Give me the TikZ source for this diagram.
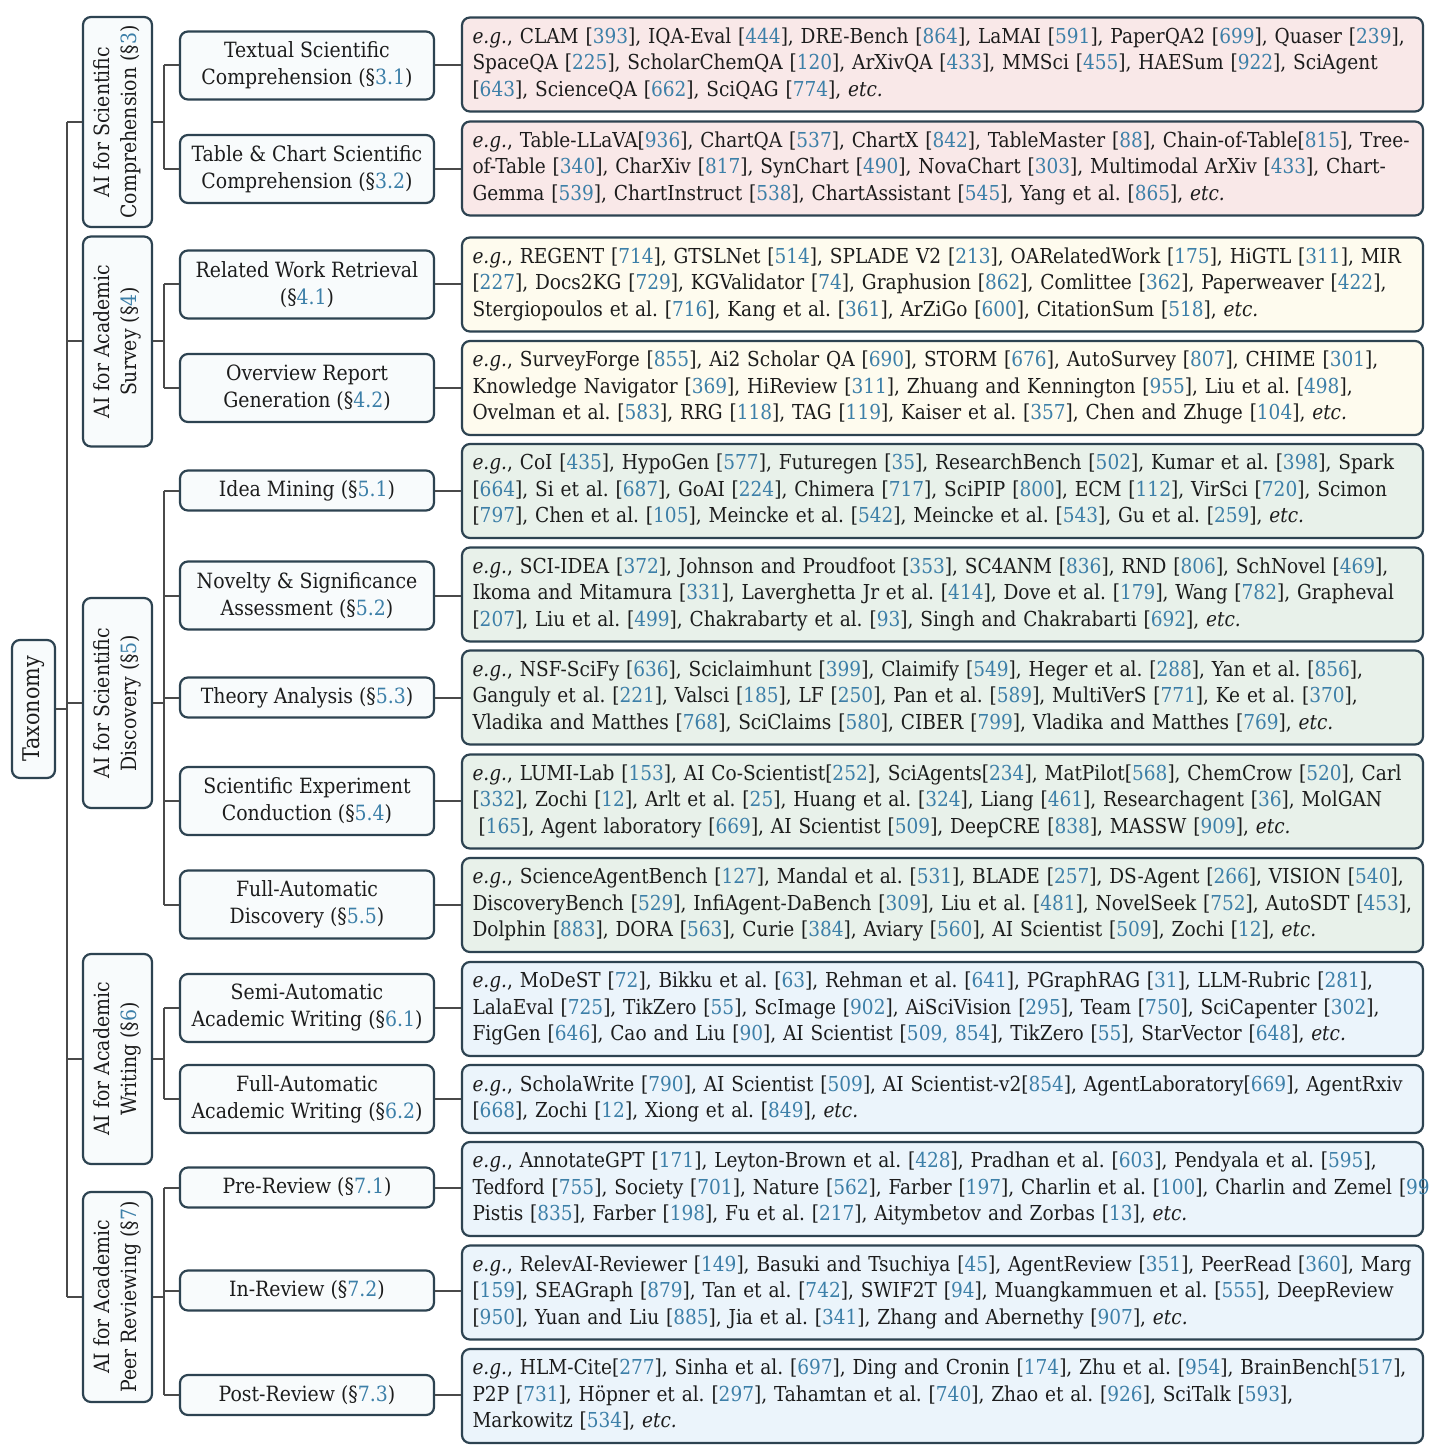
\documentclass[tikz,border=0pt]{standalone}
\usepackage{fontspec}
\setmainfont{DejaVu Serif Condensed}
\frenchspacing
\definecolor{bordercol}{HTML}{2D4351}
\definecolor{conncol}{HTML}{4A4A4A}
\definecolor{nodefill}{HTML}{F8FBFC}
\definecolor{pinkfill}{HTML}{F9E8E8}
\definecolor{yellowfill}{HTML}{FEFBEE}
\definecolor{greenfill}{HTML}{E8F1EA}
\definecolor{bluefill}{HTML}{EBF4FB}
\definecolor{citecol}{HTML}{3C7FA8}
\definecolor{txtcol}{HTML}{1C1C1C}
\newcommand\cit[1]{[\textcolor{citecol}{#1}]}
\newcommand\sect[1]{(§\textcolor{citecol}{#1})}
\newcommand\egx{\textit{e.g.}}
\newcommand\etcx{\textit{etc.}}
\newcommand\leaflines[1]{\begin{tabular}{@{}l@{}}#1\end{tabular}}
\tikzset{
  box/.style={draw=bordercol, line width=1.1pt, rounded corners=4pt, fill=nodefill,
    align=center, inner sep=0pt, text=txtcol, font=\fontsize{10.5}{13.5}\selectfont},
  catbox/.style={box, rotate=90, minimum width=105pt, minimum height=34.5pt},
  subbox/.style={box, minimum width=127pt, minimum height=34pt},
  subone/.style={box, minimum width=127pt, minimum height=20pt},
  leaf/.style={draw=bordercol, line width=1.1pt, rounded corners=4pt,
    minimum width=480.5pt, minimum height=47pt, text width=470pt, inner xsep=5pt, inner ysep=0pt,
    align=left, text=txtcol, font=\fontsize{10.3}{13.25}\selectfont},
  conn/.style={draw=conncol, line width=1pt}
}
\begin{document}
\begin{tikzpicture}[x=0.5pt,y=-0.5pt]
\useasboundingbox (0,0) rectangle (1445,1449);
\fill[white] (0,0) rectangle (1445,1449);

% root
\node[box, rotate=90, minimum width=69pt, minimum height=21.5pt, font=\fontsize{11.5}{14}\selectfont] (root) at (33.5,709) {Taxonomy};

% level 1
\node[catbox] (c3) at (117.5,122) {AI for Scientific\\Comprehension \sect{3}};
\node[catbox] (c4) at (117.5,341.5) {AI for Academic\\Survey \sect{4}};
\node[catbox] (c5) at (117.5,703) {AI for Scientific\\Discovery \sect{5}};
\node[catbox] (c6) at (117.5,1059) {AI for Academic\\Writing \sect{6}};
\node[catbox] (c7) at (117.5,1297) {AI for Academic\\Peer Reviewing \sect{7}};

% level 2
\node[subbox] (s31) at (307,65.5) {Textual Scientific\\Comprehension \sect{3.1}};
\node[subbox] (s32) at (307,169) {Table \& Chart Scientific\\Comprehension \sect{3.2}};
\node[subbox] (s41) at (307,284.5) {Related Work Retrieval\\\sect{4.1}};
\node[subbox] (s42) at (307,388) {Overview Report\\Generation \sect{4.2}};
\node[subone] (s51) at (307,490.5) {Idea Mining \sect{5.1}};
\node[subbox] (s52) at (307,595.5) {Novelty \& Significance\\Assessment \sect{5.2}};
\node[subone] (s53) at (307,697.5) {Theory Analysis \sect{5.3}};
\node[subbox] (s54) at (307,801) {Scientific Experiment\\Conduction \sect{5.4}};
\node[subbox] (s55) at (307,904.5) {Full-Automatic\\Discovery \sect{5.5}};
\node[subbox] (s61) at (307,1008) {Semi-Automatic\\Academic Writing \sect{6.1}};
\node[subbox] (s62) at (307,1099) {Full-Automatic\\Academic Writing \sect{6.2}};
\node[subone] (s71) at (307,1187.5) {Pre-Review \sect{7.1}};
\node[subone] (s72) at (307,1290.5) {In-Review \sect{7.2}};
\node[subone] (s73) at (307,1395) {Post-Review \sect{7.3}};

% leaves
\node[leaf, fill=pinkfill] (l31) at (942.5,64.5) {\leaflines{\egx, CLAM \cit{393}, IQA-Eval \cit{444}, DRE-Bench \cit{864}, LaMAI \cit{591}, PaperQA2 \cit{699}, Quaser \cit{239},\\SpaceQA \cit{225}, ScholarChemQA \cit{120}, ArXivQA \cit{433}, MMSci \cit{455}, HAESum \cit{922}, SciAgent\\\cit{643}, ScienceQA \cit{662}, SciQAG \cit{774}, \etcx}};
\node[leaf, fill=pinkfill] (l32) at (942.5,168.5) {\leaflines{\egx, Table-LLaVA\cit{936}, ChartQA \cit{537}, ChartX \cit{842}, TableMaster \cit{88}, Chain-of-Table\cit{815}, Tree-\\of-Table \cit{340}, CharXiv \cit{817}, SynChart \cit{490}, NovaChart \cit{303}, Multimodal ArXiv \cit{433}, Chart-\\Gemma \cit{539}, ChartInstruct \cit{538}, ChartAssistant \cit{545}, Yang et al. \cit{865}, \etcx}};
\node[leaf, fill=yellowfill] (l41) at (942.5,284.5) {\leaflines{\egx, REGENT \cit{714}, GTSLNet \cit{514}, SPLADE V2 \cit{213}, OARelatedWork \cit{175}, HiGTL \cit{311}, MIR\\\cit{227}, Docs2KG \cit{729}, KGValidator \cit{74}, Graphusion \cit{862}, Comlittee \cit{362}, Paperweaver \cit{422},\\Stergiopoulos et al. \cit{716}, Kang et al. \cit{361}, ArZiGo \cit{600}, CitationSum \cit{518}, \etcx}};
\node[leaf, fill=yellowfill] (l42) at (942.5,388) {\leaflines{\egx, SurveyForge \cit{855}, Ai2 Scholar QA \cit{690}, STORM \cit{676}, AutoSurvey \cit{807}, CHIME \cit{301},\\Knowledge Navigator \cit{369}, HiReview \cit{311}, Zhuang and Kennington \cit{955}, Liu et al. \cit{498},\\Ovelman et al. \cit{583}, RRG \cit{118}, TAG \cit{119}, Kaiser et al. \cit{357}, Chen and Zhuge \cit{104}, \etcx}};
\node[leaf, fill=greenfill] (l51) at (942.5,491) {\leaflines{\egx, CoI \cit{435}, HypoGen \cit{577}, Futuregen \cit{35}, ResearchBench \cit{502}, Kumar et al. \cit{398}, Spark\\\cit{664}, Si et al. \cit{687}, GoAI \cit{224}, Chimera \cit{717}, SciPIP \cit{800}, ECM \cit{112}, VirSci \cit{720}, Scimon\\\cit{797}, Chen et al. \cit{105}, Meincke et al. \cit{542}, Meincke et al. \cit{543}, Gu et al. \cit{259}, \etcx}};
\node[leaf, fill=greenfill] (l52) at (942.5,594.5) {\leaflines{\egx, SCI-IDEA \cit{372}, Johnson and Proudfoot \cit{353}, SC4ANM \cit{836}, RND \cit{806}, SchNovel \cit{469},\\Ikoma and Mitamura \cit{331}, Laverghetta Jr et al. \cit{414}, Dove et al. \cit{179}, Wang \cit{782}, Grapheval\\\cit{207}, Liu et al. \cit{499}, Chakrabarty et al. \cit{93}, Singh and Chakrabarti \cit{692}, \etcx}};
\node[leaf, fill=greenfill] (l53) at (942.5,697.5) {\leaflines{\egx, NSF-SciFy \cit{636}, Sciclaimhunt \cit{399}, Claimify \cit{549}, Heger et al. \cit{288}, Yan et al. \cit{856},\\Ganguly et al. \cit{221}, Valsci \cit{185}, LF \cit{250}, Pan et al. \cit{589}, MultiVerS \cit{771}, Ke et al. \cit{370},\\Vladika and Matthes \cit{768}, SciClaims \cit{580}, CIBER \cit{799}, Vladika and Matthes \cit{769}, \etcx}};
\node[leaf, fill=greenfill] (l54) at (942.5,801.5) {\leaflines{\egx, LUMI-Lab \cit{153}, AI Co-Scientist\cit{252}, SciAgents\cit{234}, MatPilot\cit{568}, ChemCrow \cit{520}, Carl\\\cit{332}, Zochi \cit{12}, Arlt et al. \cit{25}, Huang et al. \cit{324}, Liang \cit{461}, Researchagent \cit{36}, MolGAN\\\hspace*{0.3em}\cit{165}, Agent laboratory \cit{669}, AI Scientist \cit{509}, DeepCRE \cit{838}, MASSW \cit{909}, \etcx}};
\node[leaf, fill=greenfill] (l55) at (942.5,905) {\leaflines{\egx, ScienceAgentBench \cit{127}, Mandal et al. \cit{531}, BLADE \cit{257}, DS-Agent \cit{266}, VISION \cit{540},\\DiscoveryBench \cit{529}, InfiAgent-DaBench \cit{309}, Liu et al. \cit{481}, NovelSeek \cit{752}, AutoSDT \cit{453},\\Dolphin \cit{883}, DORA \cit{563}, Curie \cit{384}, Aviary \cit{560}, AI Scientist \cit{509}, Zochi \cit{12}, \etcx}};
\node[leaf, fill=bluefill] (l61) at (942.5,1009) {\leaflines{\egx, MoDeST \cit{72}, Bikku et al. \cit{63}, Rehman et al. \cit{641}, PGraphRAG \cit{31}, LLM-Rubric \cit{281},\\LalaEval \cit{725}, TikZero \cit{55}, ScImage \cit{902}, AiSciVision \cit{295}, Team \cit{750}, SciCapenter \cit{302},\\FigGen \cit{646}, Cao and Liu \cit{90}, AI Scientist \cit{509, 854}, TikZero \cit{55}, StarVector \cit{648}, \etcx}};
\node[leaf, fill=bluefill, minimum height=34pt] (l62) at (942.5,1099) {\leaflines{\egx, ScholaWrite \cit{790}, AI Scientist \cit{509}, AI Scientist-v2\cit{854}, AgentLaboratory\cit{669}, AgentRxiv\\\cit{668}, Zochi \cit{12}, Xiong et al. \cit{849}, \etcx}};
\node[leaf, fill=bluefill] (l71) at (942.5,1189) {\leaflines{\egx, AnnotateGPT \cit{171}, Leyton-Brown et al. \cit{428}, Pradhan et al. \cit{603}, Pendyala et al. \cit{595},\\Tedford \cit{755}, Society \cit{701}, Nature \cit{562}, Farber \cit{197}, Charlin et al. \cit{100}, Charlin and Zemel [\textcolor{citecol}{99}\\Pistis \cit{835}, Farber \cit{198}, Fu et al. \cit{217}, Aitymbetov and Zorbas \cit{13}, \etcx}};
\node[leaf, fill=bluefill] (l72) at (942.5,1292.5) {\leaflines{\egx, RelevAI-Reviewer \cit{149}, Basuki and Tsuchiya \cit{45}, AgentReview \cit{351}, PeerRead \cit{360}, Marg\\\cit{159}, SEAGraph \cit{879}, Tan et al. \cit{742}, SWIF2T \cit{94}, Muangkammuen et al. \cit{555}, DeepReview\\\cit{950}, Yuan and Liu \cit{885}, Jia et al. \cit{341}, Zhang and Abernethy \cit{907}, \etcx}};
\node[leaf, fill=bluefill] (l73) at (942.5,1396) {\leaflines{\egx, HLM-Cite\cit{277}, Sinha et al. \cit{697}, Ding and Cronin \cit{174}, Zhu et al. \cit{954}, BrainBench\cit{517},\\P2P \cit{731}, Höpner et al. \cit{297}, Tahamtan et al. \cit{740}, Zhao et al. \cit{926}, SciTalk \cit{593},\\Markowitz \cit{534}, \etcx}};

% connectors
\coordinate (spA) at (67,0);
\coordinate (spB) at (164,0);
\draw[conn] (root.south) -- (root.south -| spA);
\draw[conn] (spA |- c3.north) -- (spA |- c7.north);
\foreach \n in {c3,c4,c5,c6,c7} \draw[conn] (spA |- \n.north) -- (\n.north);
\foreach \n in {c3,c4,c5,c6,c7} \draw[conn] (\n.south) -- (\n.south -| spB);
\draw[conn] (spB |- s31.west) -- (spB |- s32.west);
\draw[conn] (spB |- s41.west) -- (spB |- s42.west);
\draw[conn] (spB |- s51.west) -- (spB |- s55.west);
\draw[conn] (spB |- s61.west) -- (spB |- s62.west);
\draw[conn] (spB |- s71.west) -- (spB |- s73.west);
\foreach \s in {31,32,41,42,51,52,53,54,55,61,62,71,72,73} {
  \draw[conn] (spB |- s\s.west) -- (s\s.west);
  \draw[conn] (s\s.east) -- (s\s.east -| l\s.west);
}
\end{tikzpicture}
\end{document}
